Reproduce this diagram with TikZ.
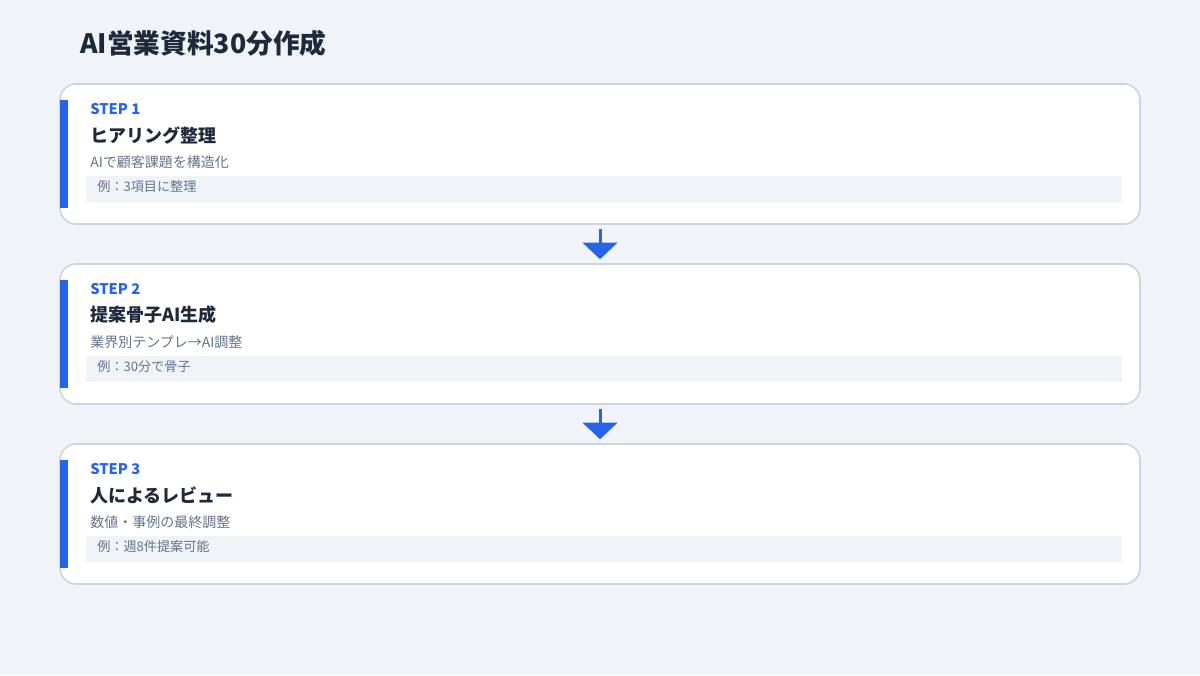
\documentclass[tikz,border=0pt]{standalone}
\usepackage{fontspec}
\setmainfont{Noto Sans CJK JP}
\usetikzlibrary{arrows.meta}
\definecolor{bgpage}{HTML}{F0F4F8}
\definecolor{cardline}{HTML}{CBD5E1}
\definecolor{stepblue}{HTML}{2563EB}
\definecolor{inkdark}{HTML}{1E293B}
\definecolor{inkgray}{HTML}{64748B}
\definecolor{exfill}{HTML}{F0F4F8}
\tikzset{>={Triangle[width=26pt,length=12.5pt]}}
\tikzset{
  card/.style={draw=cardline, line width=1.2pt, fill=white, rounded corners=12pt,
    minimum width=810pt, minimum height=105pt, inner sep=0pt},
  steplabel/.style={anchor=west, inner sep=0pt, text=stepblue,
    font=\fontsize{11pt}{13pt}\selectfont\bfseries},
  steptitle/.style={anchor=west, inner sep=0pt, text=inkdark,
    font=\fontsize{13.5pt}{16pt}\selectfont\bfseries},
  stepdesc/.style={anchor=west, inner sep=0pt, text=inkgray,
    font=\fontsize{10.5pt}{12pt}\selectfont},
  stepex/.style={anchor=west, inner sep=0pt, text=inkgray,
    font=\fontsize{9.85pt}{11pt}\selectfont},
  flowarrow/.style={->, draw=stepblue, line width=2.25pt, shorten <=3pt, shorten >=3pt}
}

\begin{document}
\begin{tikzpicture}[x=0.75pt,y=-0.75pt]
        \def\cardw{1080}
        \def\barw{8}

        \fill[bgpage] (0,0) rectangle (1200,675);
        \useasboundingbox (0,0) rectangle (1200,675);

        \node[anchor=west, inner sep=0pt, text=inkdark, font=\fontsize{20pt}{24pt}\selectfont\bfseries]
            (title) at (80,43) {AI営業資料30分作成};

        % step 1
        \node[card] (s1) at (600,154) {};
        \fill[stepblue] (60,100) rectangle (60+\barw,208);
        \fill[exfill] (86,176) rectangle (1122,202);
        \node[steplabel] (s1step) at (90,109) {STEP 1};
        \node[steptitle] (s1title) at (90,135) {ヒアリング整理};
        \node[stepdesc] (s1desc) at (90,162) {AIで顧客課題を構造化};
        \node[stepex] (s1ex) at (97,187) {例：3項目に整理};

        % step 2
        \node[card] (s2) at (600,334) {};
        \fill[stepblue] (60,280) rectangle (60+\barw,388);
        \fill[exfill] (86,356) rectangle (1122,382);
        \node[steplabel] (s2step) at (90,289) {STEP 2};
        \node[steptitle] (s2title) at (90,315) {提案骨子AI生成};
        \node[stepdesc] (s2desc) at (90,342) {業界別テンプレ→AI調整};
        \node[stepex] (s2ex) at (97,367) {例：30分で骨子};

        % step 3
        \node[card] (s3) at (600,514) {};
        \fill[stepblue] (60,460) rectangle (60+\barw,568);
        \fill[exfill] (86,536) rectangle (1122,562);
        \node[steplabel] (s3step) at (90,469) {STEP 3};
        \node[steptitle] (s3title) at (90,495) {人によるレビュー};
        \node[stepdesc] (s3desc) at (90,522) {数値・事例の最終調整};
        \node[stepex] (s3ex) at (97,547) {例：週8件提案可能};

        %arrows
        \draw[flowarrow] (s1) -- (s2);
        \draw[flowarrow] (s2) -- (s3);

\end{tikzpicture}
\end{document}
